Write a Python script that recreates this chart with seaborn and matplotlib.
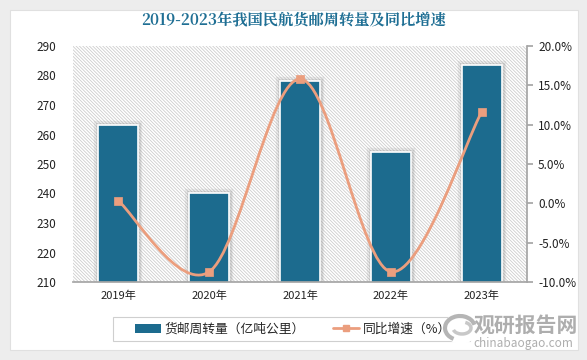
import numpy as np
import pandas as pd
import seaborn as sns
import matplotlib.pyplot as plt
import matplotlib.patheffects as pe
from matplotlib.patches import Rectangle, Patch, Ellipse, Arc
from matplotlib.lines import Line2D
from matplotlib.path import Path
from matplotlib.patches import PathPatch
from matplotlib.ticker import FuncFormatter

years = ["2019年", "2020年", "2021年", "2022年", "2023年"]
volume = [263.2, 240.2, 278.2, 254.1, 283.6]  # 亿吨公里
growth = [0.3, -8.7, 15.8, -8.7, 11.6]  # %

bar_color = "#1c6b8e"
line_color = "#eb9e7e"
W, H = 587, 360

sns.set_theme(style="white")
plt.rcParams['font.family'] = ['Noto Sans CJK SC', 'DejaVu Sans']
plt.rcParams['hatch.linewidth'] = 0.6
plt.rcParams['hatch.color'] = '#cdcdcd'

fig = plt.figure(figsize=(5.87, 3.6), dpi=100)
fig.patch.set_facecolor('#ededed')
fig.patches.append(Rectangle((10 / W, 10 / H), 568 / W, 340 / H,
                             transform=fig.transFigure, facecolor='white',
                             edgecolor='#e0e0e0', lw=0.8, zorder=-5))

ax = fig.add_axes([73 / W, 1 - 282 / H, 454 / W, 236 / H])
ax.set_facecolor('none')
ax.add_patch(Rectangle((0, 0), 1, 1, transform=ax.transAxes, facecolor='white',
                       edgecolor='#cdcdcd', hatch='\\' * 10, lw=0, zorder=0))

df = pd.DataFrame({"year": years, "volume": volume, "growth": growth})
sns.barplot(data=df, x="year", y="volume", color=bar_color, width=0.44,
            edgecolor='white', linewidth=1.2, saturation=1, ax=ax, zorder=2)
for bar in ax.patches[1:]:
    bar.set_path_effects([pe.Stroke(linewidth=6, foreground='#999999', alpha=0.18),
                          pe.Stroke(linewidth=3.5, foreground='#888888', alpha=0.2),
                          pe.Normal()])
ax.set_ylim(210, 290)
ax.set_yticks(range(210, 291, 10))
ax.set_xlim(-0.5, 4.5)
ax.set_xlabel("")
ax.set_ylabel("")
for s in ["left", "top", "right"]:
    ax.spines[s].set_visible(False)
ax.spines["bottom"].set_color("#a6a6a6")
ax.spines["bottom"].set_zorder(5)
ax.tick_params(axis='y', length=0, labelsize=8.5, pad=12, colors='#222222')
ax.tick_params(axis='x', length=0, labelsize=8, pad=6, colors='#222222')

ax2 = ax.twinx()
ax2.set_ylim(-10, 20)
ax2.set_yticks(range(-10, 21, 5))
ax2.yaxis.set_major_formatter(FuncFormatter(lambda v, p: f"{v:.1f}%"))
for s in ["left", "top", "bottom"]:
    ax2.spines[s].set_visible(False)
ax2.spines["right"].set_color("#a6a6a6")
ax2.tick_params(axis='y', length=4, color='#a6a6a6', labelsize=8.5, pad=4,
                labelcolor='#222222')

# smooth curve (Catmull-Rom style bezier through the data points)
xs = np.arange(len(growth), dtype=float)
ys = np.array(growth, dtype=float)
verts = [(xs[0], ys[0])]
codes = [Path.MOVETO]
n = len(xs)
for i in range(n - 1):
    p0 = np.array([xs[max(i - 1, 0)], ys[max(i - 1, 0)]])
    p1 = np.array([xs[i], ys[i]])
    p2 = np.array([xs[i + 1], ys[i + 1]])
    p3 = np.array([xs[min(i + 2, n - 1)], ys[min(i + 2, n - 1)]])
    c1 = p1 + (p2 - p0) / 6
    c2 = p2 - (p3 - p1) / 6
    verts += [tuple(c1), tuple(c2), tuple(p2)]
    codes += [Path.CURVE4] * 3
ax2.add_patch(PathPatch(Path(verts, codes), facecolor='none', edgecolor=line_color,
                        lw=2, zorder=3))
sns.scatterplot(x=xs, y=ys, marker='s', s=40, color=line_color, edgecolor=line_color,
                ax=ax2, zorder=4)

fig.text(0.5, 1 - 20 / H, "2019-2023年我国民航货邮周转量及同比增速", ha='center', va='center',
         fontsize=11, fontweight='bold', color='#1f6f94',
         family=['Noto Serif CJK SC', 'Noto Sans CJK SC', 'DejaVu Sans'])

# legend: frame drawn separately, partly hidden by the logo like the reference
fig.patches.append(Rectangle((113 / W, 1 - 341 / H), (470 - 113) / W, 24 / H,
                             transform=fig.transFigure, facecolor='white',
                             edgecolor='#cfcfcf', lw=0.8, zorder=1))
handles = [Patch(facecolor=bar_color, edgecolor='none'),
           Line2D([0], [0], color=line_color, lw=2, marker='s', markersize=5)]
leg = fig.legend(handles, ["货邮周转量（亿吨公里）", "同比增速（%）"], ncol=2,
                 loc='center', bbox_to_anchor=(293 / W, 1 - 329 / H),
                 frameon=False, fontsize=9.2, handlelength=2.0,
                 handletextpad=0.3, columnspacing=2.2)
leg.set_zorder(8)

# watermark
fig.patches.append(Ellipse((461 / W, 1 - 328 / H), 34 / W, 32 / H, transform=fig.transFigure,
                           facecolor='white', edgecolor='none', zorder=2))
fig.patches.append(Arc((460 / W, 1 - 328 / H), 30 / W, 24 / H, theta1=20, theta2=250,
                       transform=fig.transFigure, color='#b5b5b5', lw=3, zorder=3))
fig.patches.append(Arc((462 / W, 1 - 328 / H), 18 / W, 12 / H, theta1=200, theta2=70,
                       transform=fig.transFigure, color='#c8c8c8', lw=2.5, zorder=3))
fig.text(526 / W, 1 - 325 / H, "观研报告网", ha='center', va='center',
         fontsize=15, fontweight='bold', color='#a0a0a0', alpha=0.85, zorder=4)
fig.text(523 / W, 1 - 344 / H, "chinabaogao.com", ha='center', va='center',
         fontsize=8.5, color='#a0a0a0', alpha=0.85, zorder=4)

fig.savefig("out.png", dpi=100, facecolor=fig.get_facecolor())
